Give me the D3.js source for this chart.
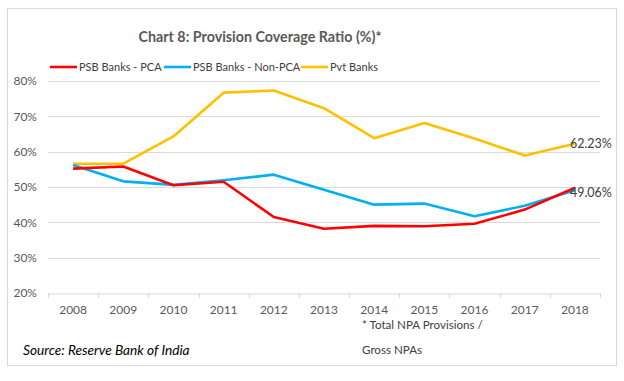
<!DOCTYPE html>
<html>
<head>
<meta charset="utf-8">
<script src="https://cdn.jsdelivr.net/npm/d3@7"></script>
<style>
  body { margin: 0; background: #fff; }
  svg text { font-family: Lato, "Open Sans", sans-serif; }
</style>
</head>
<body>
<div id="chart"></div>
<script>
'use strict';

// ── Data ────────────────────────────────────────────────────
const YEARS = ['2008', '2009', '2010', '2011', '2012', '2013',
               '2014', '2015', '2016', '2017', '2018'];

const PSB_PCA     = [55.2, 55.8, 50.5, 51.5, 41.5, 38.2, 39.0, 38.9, 39.6, 43.6, 49.8];
const PSB_NON_PCA = [56.2, 51.6, 50.6, 51.9, 53.5, 49.2, 45.0, 45.3, 41.7, 44.7, 49.06];
const PVT_BANKS   = [56.6, 56.6, 64.3, 76.7, 77.3, 72.3, 63.8, 68.1, 63.7, 58.9, 62.23];

const Y_TICKS = [20, 30, 40, 50, 60, 70, 80];

const SERIES = [
    { name: 'PSB Banks - PCA',     values: PSB_PCA,     colour: '#FF0000' },
    { name: 'PSB Banks - Non-PCA', values: PSB_NON_PCA, colour: '#00B0F0' },
    { name: 'Pvt Banks',           values: PVT_BANKS,   colour: '#FFC000' }
];

// ── Layout ──────────────────────────────────────────────────
const totalW = 624, totalH = 381;
const margin = { top: 81, right: 24, bottom: 88, left: 48 };
const W = totalW - margin.left - margin.right;
const H = totalH - margin.top - margin.bottom;

const svg = d3.select('#chart').append('svg')
    .attr('width', totalW)
    .attr('height', totalH);

// outer frame
svg.append('rect')
    .attr('x', 7.5).attr('y', 8.5)
    .attr('width', 609).attr('height', 357)
    .attr('fill', '#fff')
    .attr('stroke', '#d9d9d9');

const chart = svg.append('g')
    .attr('transform', `translate(${margin.left},${margin.top})`);

// ── Scales ──────────────────────────────────────────────────
const x = d3.scaleBand().domain(YEARS).range([0, W]);
const y = d3.scaleLinear().domain([20, 80]).range([H, 0]);

// gridlines
chart.selectAll('line.grid')
    .data(Y_TICKS.slice(1))
    .join('line')
    .attr('class', 'grid')
    .attr('x1', 0).attr('x2', W)
    .attr('y1', d => Math.round(y(d)) + 0.5)
    .attr('y2', d => Math.round(y(d)) + 0.5)
    .attr('stroke', '#d9d9d9');

// y labels
chart.selectAll('text.ylab')
    .data(Y_TICKS)
    .join('text')
    .attr('class', 'ylab')
    .attr('x', -11)
    .attr('y', d => y(d))
    .attr('dy', '0.35em')
    .attr('text-anchor', 'end')
    .attr('font-size', 12)
    .attr('fill', '#595959')
    .text(d => d + '%');

// x axis
const xAxis = chart.append('g')
    .attr('transform', `translate(0,${Math.round(H) + 0.5})`)
    .call(d3.axisBottom(x).tickSize(0).tickPadding(12));
xAxis.select('.domain').attr('stroke', '#d9d9d9');
xAxis.selectAll('text')
    .attr('font-size', 12)
    .attr('fill', '#595959')
    .style('font-family', 'Lato, "Open Sans", sans-serif');

// tick marks between categories
chart.selectAll('line.xtick')
    .data(d3.range(YEARS.length + 1))
    .join('line')
    .attr('class', 'xtick')
    .attr('x1', i => Math.round(i * x.step()) + 0.5)
    .attr('x2', i => Math.round(i * x.step()) + 0.5)
    .attr('y1', H).attr('y2', H + 5)
    .attr('stroke', '#d9d9d9');

// ── Lines ───────────────────────────────────────────────────
const line = d3.line()
    .x((d, i) => x(YEARS[i]) + x.bandwidth() / 2)
    .y(d => y(d));

// draw Pvt first, then Non-PCA, then PCA on top near 2018
[SERIES[2], SERIES[1], SERIES[0]].forEach(s => {
    chart.append('path')
        .datum(s.values)
        .attr('fill', 'none')
        .attr('stroke', s.colour)
        .attr('stroke-width', 2.6)
        .attr('stroke-linejoin', 'round')
        .attr('d', line);
});

// end labels
const last = YEARS.length - 1;
[[PVT_BANKS, 0], [PSB_NON_PCA, 2]].forEach(([vals, dy]) => {
    chart.append('text')
        .attr('x', x(YEARS[last]) + x.bandwidth() / 2 - 5)
        .attr('y', y(vals[last]) + dy)
        .attr('dy', '0.35em')
        .attr('font-size', 12.5)
        .attr('fill', '#404040')
        .text(vals[last].toFixed(2) + '%');
});

// ── Legend ──────────────────────────────────────────────────
const legendX = [50, 164, 301];
const legend = svg.selectAll('g.legend')
    .data(SERIES)
    .join('g')
    .attr('class', 'legend')
    .attr('transform', (d, i) => `translate(${legendX[i]},67)`);
legend.append('line')
    .attr('x1', 0).attr('x2', 27)
    .attr('stroke', d => d.colour)
    .attr('stroke-width', 2.6);
legend.append('text')
    .attr('x', 29)
    .attr('dy', '0.35em')
    .attr('font-size', 11)
    .attr('fill', '#404040')
    .text(d => d.name);

// ── Title and notes ─────────────────────────────────────────
svg.append('text')
    .attr('x', 260).attr('y', 42)
    .attr('text-anchor', 'middle')
    .attr('font-size', 14.3)
    .attr('font-weight', 'bold')
    .attr('fill', '#595959')
    .text('Chart 8: Provision Coverage Ratio (%)*');

svg.append('text')
    .attr('x', 362).attr('y', 329)
    .attr('font-size', 11.6)
    .attr('fill', '#404040')
    .text('* Total NPA Provisions /');
svg.append('text')
    .attr('x', 362).attr('y', 354)
    .attr('font-size', 11.6)
    .attr('fill', '#404040')
    .text('Gross NPAs');

svg.append('text')
    .attr('x', 23).attr('y', 355)
    .attr('font-size', 13.7)
    .attr('font-style', 'italic')
    .attr('fill', '#000')
    .text('Source: Reserve Bank of India');
</script>
</body>
</html>
